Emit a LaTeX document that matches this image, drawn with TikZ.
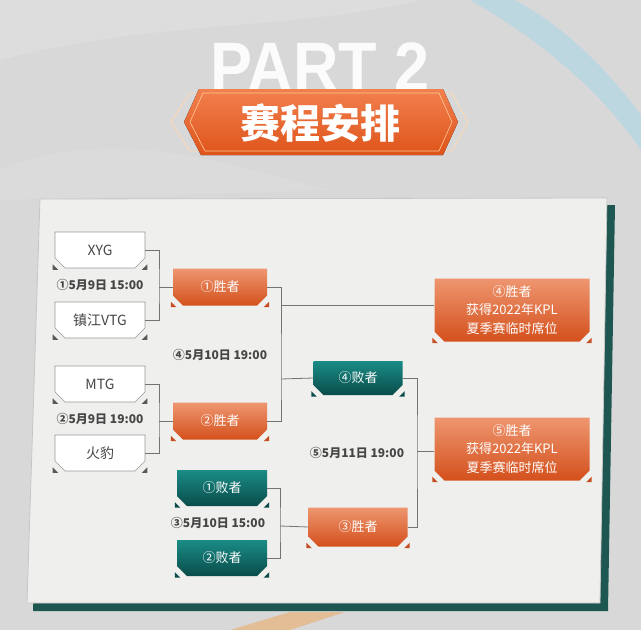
\documentclass[tikz,border=0pt]{standalone}
\usepackage{fontspec}
\usepackage{tikz}
\usetikzlibrary{shapes.misc,calc}
\newfontfamily\cjk{Noto Sans CJK SC}
\newfontfamily\partfont{Liberation Sans}
\definecolor{bggray}{RGB}{216,216,216}
\definecolor{panelgray}{RGB}{239,239,237}
\definecolor{frameteal}{RGB}{30,86,82}
\definecolor{orangetop}{RGB}{238,150,112}
\definecolor{orangebot}{RGB}{212,80,28}
\definecolor{orangedark}{RGB}{196,78,34}
\definecolor{bannertop}{RGB}{242,128,78}
\definecolor{bannerbot}{RGB}{222,84,26}
\definecolor{tealtop}{RGB}{26,140,134}
\definecolor{tealbot}{RGB}{10,76,74}
\definecolor{linkgray}{RGB}{115,115,115}
\definecolor{textgray}{RGB}{70,70,70}

\tikzset{
  box/.style={chamfered rectangle, chamfered rectangle corners={south west,south east},
    chamfered rectangle sep=5pt, inner sep=0pt, font=\cjk\fontsize{13}{15}\selectfont},
  teambox/.style={box, fill=white, draw=gray!80, line width=0.6pt, text=textgray,
    minimum width=90pt, minimum height=36pt, font=\cjk\fontsize{14}{16}\selectfont},
  winbox/.style={box, top color=orangetop, bottom color=orangebot, text=white,
    minimum width=94pt, minimum height=37pt},
  losebox/.style={box, top color=tealtop, bottom color=tealbot, text=white,
    minimum width=90pt, minimum height=36pt},
  finalbox/.style={winbox, align=center, minimum width=155pt, minimum height=63pt,
    font=\cjk\fontsize{13}{18.5}\selectfont},
  datelabel/.style={font=\cjk\bfseries\fontsize{12}{14}\selectfont, text=textgray},
  link/.style={linkgray, line width=0.8pt},
}

\begin{document}
\begin{tikzpicture}[x=1pt,y=-1pt]
        \useasboundingbox (0,0) rectangle (641,630);
        % background
        \fill[bggray] (0,0) rectangle (641,630);
        \fill[white, opacity=0.15] (0,60) .. controls (150,20) and (300,30) .. (420,0) -- (0,0) -- cycle;
        \fill[white, opacity=0.1] (0,170) .. controls (120,120) and (240,170) .. (330,190) -- (0,200) -- cycle;
        \fill[cyan!50!white, opacity=0.3] (470,0) .. controls (540,40) and (600,90) .. (641,150)
            -- (641,115) .. controls (600,60) and (560,25) .. (515,0) -- cycle;
        \fill[orange, opacity=0.3] (230,630) -- (290,612) -- (345,612) -- (290,630) -- cycle;

        % title
        \node[anchor=base, text=white, opacity=0.9, inner sep=1pt] (part) at (320,91)
            {\scalebox{0.9}[1]{\partfont\bfseries\fontsize{70}{70}\selectfont PART 2}};
        \draw[white!70!orange, line width=0.8pt] (171,122) -- (190,93) -- (452,93) -- (468,122) -- (452,151) -- (190,151) -- cycle;
        \fill[top color=bannertop, bottom color=bannerbot] (184,122) -- (199,89) -- (443,89) -- (458,122) -- (443,155) -- (201,155) -- cycle;
        \draw[white!60!orange, line width=0.6pt] (190,122) -- (203,93) -- (439,93) -- (452,122) -- (439,151) -- (205,151) -- cycle;
        \node[text=white, inner sep=1pt] (title) at (320,123) {\cjk\bfseries\fontsize{40}{40}\selectfont 赛程安排};

        % panel
        \fill[frameteal] (48,207) -- (615,205) -- (608,611) -- (33,611) -- cycle;
        \fill[panelgray] (40,199) -- (607,198) -- (600,603) -- (27,603) -- cycle;
        \draw[gray!45, line width=0.8pt] (40,199) -- (607,198) -- (600,603) -- (27,603) -- cycle;

        % teams
        \node[teambox] (xyg) at (100,250) {XYG};
        \node[teambox] (vtg) at (100,320) {镇江VTG};
        \node[teambox] (mtg) at (100,384) {MTG};
        \node[teambox] (huo) at (100,453) {火豹};

        % later rounds
        \node[winbox] (win1) at (220,287) {①胜者};
        \node[winbox] (win2) at (220,421) {②胜者};
        \node[losebox] (lose1) at (222,488) {①败者};
        \node[losebox] (lose2) at (222,558) {②败者};
        \node[losebox, minimum width=89pt, minimum height=34pt] (lose4) at (358,378) {④败者};
        \node[winbox, minimum width=99pt, minimum height=39pt] (win3) at (358,527) {③胜者};
        \node[finalbox] (final4) at (512,310) {④胜者\\获得2022年KPL\\夏季赛临时席位};
        \node[finalbox] (final5) at (512,449) {⑤胜者\\获得2022年KPL\\夏季赛临时席位};

        % dates
        \node[datelabel] (date1) at (100,285) {①5月9日 15:00};
        \node[datelabel] (date2) at (100,419) {②5月9日 19:00};
        \node[datelabel] (date4) at (220,355) {④5月10日 19:00};
        \node[datelabel] (date3) at (218,523) {③5月10日 15:00};
        \node[datelabel] (date5) at (357,453) {⑤5月11日 19:00};

        % brackets
        \coordinate (b1) at (159,287);
        \coordinate (b2) at (159,421);
        \coordinate (b3) at (280,526);
        \coordinate (b4) at (281,379);
        \coordinate (t4) at (281,305);
        \coordinate (b5) at (417,451);
        \draw[link] (xyg.east) -| (b1) |- (vtg.east);
        \draw[link] (b1) -- (win1.west);
        \draw[link] (mtg.east) -| (b2) |- (huo.east);
        \draw[link] (b2) -- (win2.west);
        \draw[link] (win1.east) -| (b4) |- (win2.east);
        \draw[link] (b4) -- (lose4.west);
        \draw[link] (t4) -- (t4 -| final4.west);
        \draw[link] (lose1.east) -| (b3) |- (lose2.east);
        \draw[link] (b3) -- (win3.west);
        \draw[link] (lose4.east) -| (b5) |- (win3.east);
        \draw[link] (b5) -- (b5 -| final5.west);

        % corner marks
        \foreach \n/\col in {xyg/gray!70!black, vtg/gray!70!black, mtg/gray!70!black, huo/gray!70!black,
                win1/orangedark, win2/orangedark, win3/orangedark, final4/orangedark, final5/orangedark,
                lose1/tealbot, lose2/tealbot, lose4/tealbot} {
            \fill[\col] ($(\n.west |- \n.south)+(-2,1.5)$) -- ++(5.5,0) -- ++(-5.5,-5.5) -- cycle;
            \fill[\col] ($(\n.east |- \n.south)+(2,1.5)$) -- ++(-5.5,0) -- ++(5.5,-5.5) -- cycle;
        }
    \end{tikzpicture}
\end{document}
